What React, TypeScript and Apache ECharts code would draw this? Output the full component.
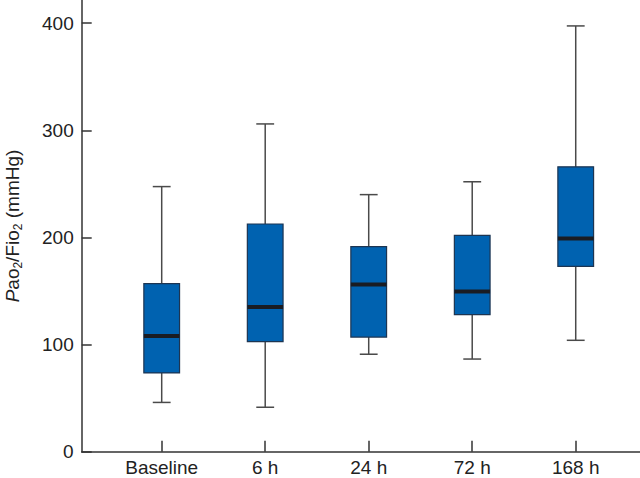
import React, { useEffect, useRef } from "react";
import * as echarts from "echarts";

const categories = ["Baseline", "6 h", "24 h", "72 h", "168 h"];
const lowerWhisker = [46, 41.5, 91, 86.5, 104];
const q1 = [73.5, 102.7, 107, 128, 173];
const median = [108, 135, 156, 149.5, 199];
const q3 = [157, 212.6, 191.5, 202, 266];
const upperWhisker = [247.5, 306, 240, 252, 397.5];
const yTicks = [0, 100, 200, 300, 400];
const xPositions = [1, 2, 3, 4, 5];

const FONT = '"Liberation Sans", Arial, Helvetica, sans-serif';

export default function App() {
  const ref = useRef<HTMLDivElement>(null);
  useEffect(() => {
    if (!ref.current) return;
    const chart = echarts.init(ref.current, undefined, { renderer: "svg" });
    const data = categories.map((_, i) => [
      xPositions[i],
      lowerWhisker[i],
      q1[i],
      median[i],
      q3[i],
      upperWhisker[i],
    ]);
    chart.setOption({
      animation: false,
      backgroundColor: "#ffffff",
      grid: {
        left: 81.7,
        right: 0,
        top: 0,
        bottom: 26.3,
        containLabel: false,
        outerBoundsMode: "none",
      },
      xAxis: {
        type: "value",
        min: 0.2271,
        max: 5.621,
        splitLine: { show: false },
        axisLine: { show: true, lineStyle: { color: "#333", width: 1.5 } },
        axisTick: {
          show: true,
          inside: true,
          length: 11,
          customValues: xPositions,
          lineStyle: { color: "#333", width: 1.5 },
        },
        axisLabel: {
          show: true,
          customValues: xPositions,
          formatter: (v: number) => categories[Math.round(v) - 1] ?? "",
          fontSize: 19,
          fontFamily: FONT,
          color: "#222",
          margin: 6,
        },
      },
      yAxis: {
        type: "value",
        min: 0,
        max: 421.7,
        splitLine: { show: false },
        axisLine: { show: true, lineStyle: { color: "#333", width: 1.5 } },
        axisTick: {
          show: true,
          inside: true,
          length: 10,
          customValues: yTicks,
          lineStyle: { color: "#333", width: 1.5 },
        },
        axisLabel: {
          show: true,
          customValues: yTicks,
          fontSize: 19,
          fontFamily: FONT,
          color: "#222",
          margin: 8,
        },
      },
      graphic: [
        {
          type: "text",
          x: 12.5,
          y: 226,
          rotation: Math.PI / 2,
          style: {
            text: "{i|P}ao{s|2}/Fio{s|2} (mmHg)",
            fontSize: 19,
            fontFamily: FONT,
            fill: "#222",
            align: "center",
            verticalAlign: "middle",
            lineHeight: 22,
            rich: {
              i: { fontStyle: "italic", fontSize: 19, fontFamily: FONT, fill: "#222", lineHeight: 22 },
              s: { fontSize: 12, fontFamily: FONT, fill: "#222", lineHeight: 12, verticalAlign: "bottom" },
            },
          },
        },
      ],
      series: [
        {
          type: "custom",
          data,
          encode: { x: 0, y: [1, 2, 3, 4, 5] },
          renderItem: (params: any, api: any) => {
            const x = api.value(0);
            const lo = api.coord([x, api.value(1)]);
            const b1 = api.coord([x, api.value(2)]);
            const md = api.coord([x, api.value(3)]);
            const b3 = api.coord([x, api.value(4)]);
            const hi = api.coord([x, api.value(5)]);
            const unit = api.size([1, 0])[0];
            const bw = unit * 0.345;
            const cw = bw * 0.5;
            const cx = lo[0];
            const wStyle = { stroke: "#4a4a4a", lineWidth: 1.5 };
            return {
              type: "group",
              children: [
                { type: "line", shape: { x1: cx, y1: lo[1], x2: cx, y2: hi[1] }, style: wStyle },
                { type: "line", shape: { x1: cx - cw / 2, y1: lo[1], x2: cx + cw / 2, y2: lo[1] }, style: wStyle },
                { type: "line", shape: { x1: cx - cw / 2, y1: hi[1], x2: cx + cw / 2, y2: hi[1] }, style: wStyle },
                {
                  type: "rect",
                  shape: { x: cx - bw / 2, y: b3[1], width: bw, height: b1[1] - b3[1] },
                  style: { fill: "#0062b0", stroke: "#1d3552", lineWidth: 1.2 },
                },
                {
                  type: "line",
                  shape: { x1: cx - bw / 2, y1: md[1], x2: cx + bw / 2, y2: md[1] },
                  style: { stroke: "#1a1c22", lineWidth: 4 },
                },
              ],
            };
          },
        },
      ],
    });
    return () => chart.dispose();
  }, []);
  return (
    <div
      ref={ref}
      style={{ position: "fixed", left: 0, top: 0, width: 640, height: 478, background: "#fff" }}
    />
  );
}
